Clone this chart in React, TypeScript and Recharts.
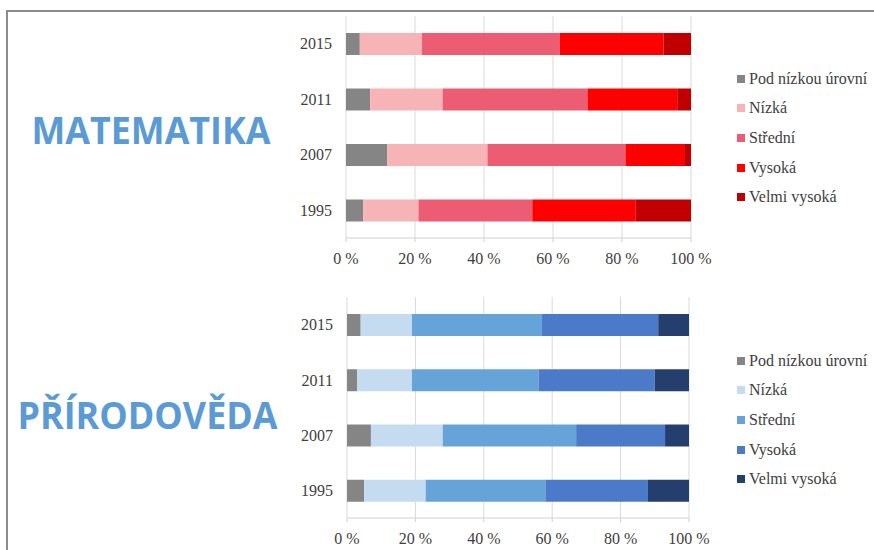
import React from 'react';
import { BarChart, Bar, XAxis, YAxis, CartesianGrid, Legend } from 'recharts';

const years = ['2015', '2011', '2007', '1995'];
const levelNames = ['Pod nízkou úrovní', 'Nízká', 'Střední', 'Vysoká', 'Velmi vysoká'];
const xTicks = [0, 20, 40, 60, 80, 100];

const mathPod = [4, 7, 12, 5];
const mathNizka = [18, 21, 29, 16];
const mathStredni = [40, 42, 40, 33];
const mathVysoka = [30, 26, 17, 30];
const mathVelmi = [8, 4, 2, 16];

const sciPod = [4, 3, 7, 5];
const sciNizka = [15, 16, 21, 18];
const sciStredni = [38, 37, 39, 35];
const sciVysoka = [34, 34, 26, 30];
const sciVelmi = [9, 10, 7, 12];

const mathColors = ['#858585', '#f6b4b7', '#ec5c72', '#ff0000', '#c00000'];
const sciColors = ['#858585', '#c4dbf0', '#65a3d9', '#4b7bc8', '#243f6d'];

const keys = ['pod', 'nizka', 'stredni', 'vysoka', 'velmi'];

function buildRows(series: number[][]) {
  return years.map((y, i) => {
    const row: Record<string, string | number> = { year: y };
    keys.forEach((k, j) => {
      row[k] = series[j][i];
    });
    return row;
  });
}

const mathData = buildRows([mathPod, mathNizka, mathStredni, mathVysoka, mathVelmi]);
const sciData = buildRows([sciPod, sciNizka, sciStredni, sciVysoka, sciVelmi]);

const FONT = "'Liberation Serif', 'Tinos', 'Times New Roman', serif";
const TEXT = '#404040';

const LegendContent = (props: any) => {
  const payload = [...(props.payload || [])].sort(
    (a: any, b: any) => levelNames.indexOf(a.value) - levelNames.indexOf(b.value)
  );
  return (
    <div style={{ fontFamily: FONT, fontSize: 16, color: TEXT }}>
      {payload.map((p: any, i: number) => (
        <div key={i} style={{ height: 29.6, display: 'flex', alignItems: 'center', whiteSpace: 'nowrap', fontFamily: FONT }}>
          <span style={{ display: 'inline-block', width: 8, height: 8, background: p.color, marginRight: 4 }} />
          <span style={{ fontFamily: FONT }}>{p.value}</span>
        </div>
      ))}
    </div>
  );
};

function StackChart(props: {
  data: any[];
  colors: string[];
  height: number;
  margin: { top: number; right: number; bottom: number; left: number };
  legendTop: number;
}) {
  const { data, colors, height, margin, legendTop } = props;
  return (
    <BarChart
      width={874}
      height={height}
      data={data}
      layout="vertical"
      margin={margin}
      barSize={22}
    >
      <CartesianGrid horizontal={false} stroke="#d9d9d9" />
      <XAxis
        type="number"
        domain={[0, 100]}
        ticks={xTicks}
        tickFormatter={(v: number) => `${v} %`}
        interval={0}
        height={30}
        axisLine={{ stroke: '#d0d0d0' }}
        tickLine={{ stroke: '#d0d0d0' }}
        tickSize={4}
        tickMargin={11}
        tick={{ fill: TEXT, fontSize: 16, fontFamily: FONT }}
      />
      <YAxis
        type="category"
        dataKey="year"
        width={50}
        axisLine={false}
        tickLine={false}
        tickSize={0}
        tickMargin={14}
        tick={{ fill: TEXT, fontSize: 16, fontFamily: FONT }}
      />
      <Legend
        layout="vertical"
        align="center"
        verticalAlign="middle"
        content={LegendContent}
        wrapperStyle={{ position: 'absolute', left: 737, top: legendTop, width: 137 }}
      />
      {keys.map((k, j) => (
        <Bar
          key={k}
          dataKey={k}
          name={levelNames[j]}
          stackId="a"
          fill={colors[j]}
          isAnimationActive={false}
        />
      ))}
    </BarChart>
  );
}

export default function App() {
  return (
    <div
      style={{
        position: 'absolute',
        left: 0,
        top: 0,
        width: 874,
        height: 550,
        background: '#ffffff',
        overflow: 'hidden',
      }}
    >
      <div
        style={{
          position: 'absolute',
          left: 6,
          top: 10,
          width: 874,
          height: 560,
          borderTop: '2px solid #8c8c8c',
          borderLeft: '2px solid #8c8c8c',
          boxSizing: 'border-box',
        }}
      />
      <div style={{ position: 'absolute', left: 0, top: 0 }}>
        <StackChart
          data={mathData}
          colors={mathColors}
          height={280}
          margin={{ top: 16, right: 183, bottom: 12, left: 296 }}
          legendTop={64}
        />
      </div>
      <div style={{ position: 'absolute', left: 0, top: 280 }}>
        <StackChart
          data={sciData}
          colors={sciColors}
          height={270}
          margin={{ top: 17, right: 185, bottom: 2, left: 297 }}
          legendTop={66}
        />
      </div>
      <svg
        width={874}
        height={550}
        style={{ position: 'absolute', left: 0, top: 0, pointerEvents: 'none' }}
      >
        <text
          x={31.5}
          y={143.5}
          textLength={239}
          lengthAdjust="spacingAndGlyphs"
          fontFamily="'Open Sans', 'Noto Sans', sans-serif"
          fontWeight={700}
          fontSize={38}
          fill="#5b9bd5"
        >
          MATEMATIKA
        </text>
        <text
          x={17.5}
          y={428.5}
          textLength={260}
          lengthAdjust="spacingAndGlyphs"
          fontFamily="'Open Sans', 'Noto Sans', sans-serif"
          fontWeight={700}
          fontSize={38}
          fill="#5b9bd5"
        >
          PŘÍRODOVĚDA
        </text>
      </svg>
    </div>
  );
}
